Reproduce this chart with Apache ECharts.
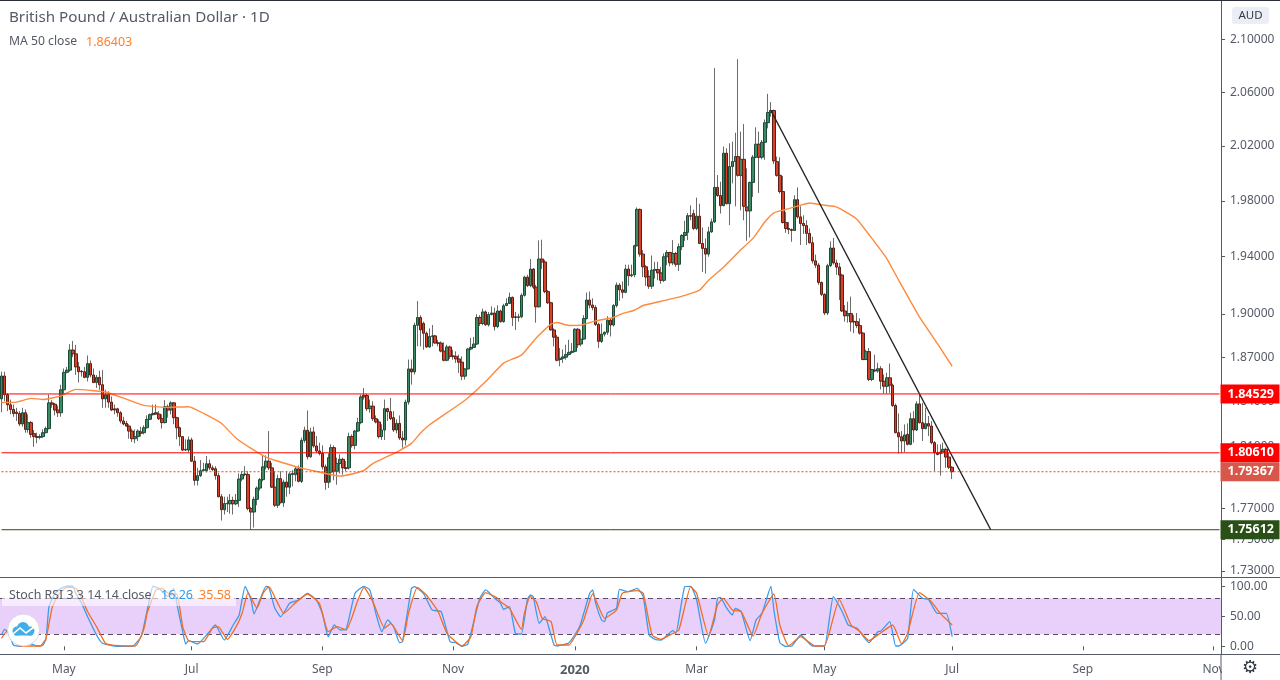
<!DOCTYPE html>
<html>
<head>
<meta charset="utf-8">
<style>html,body{margin:0;padding:0;background:#fff}#chart{width:1280px;height:680px}</style>
<script src="https://cdn.jsdelivr.net/npm/echarts@6/dist/echarts.min.js"></script>
</head>
<body>
<div id="chart"></div>
<script>
/* daily candles: [open, close, low, high] */
var candles = [
[1.8420,1.8574,1.8331,1.8603],[1.8574,1.8448,1.8404,1.8603],[1.8448,1.8380,1.8338,1.8459],[1.8380,1.8349,1.8316,1.8415],[1.8349,1.8322,1.8300,1.8382],
[1.8331,1.8322,1.8272,1.8360],[1.8322,1.8252,1.8238,1.8338],[1.8252,1.8327,1.8234,1.8360],[1.8327,1.8216,1.8194,1.8349],[1.8216,1.8261,1.8194,1.8316],
[1.8261,1.8183,1.8161,1.8272],[1.8188,1.8168,1.8101,1.8212],[1.8168,1.8163,1.8124,1.8194],[1.8163,1.8168,1.8150,1.8183],[1.8168,1.8194,1.8159,1.8216],
[1.8194,1.8221,1.8190,1.8234],[1.8221,1.8393,1.8216,1.8448],[1.8393,1.8384,1.8360,1.8411],[1.8384,1.8345,1.8309,1.8393],[1.8345,1.8327,1.8298,1.8375],
[1.8327,1.8481,1.8300,1.8515],[1.8481,1.8599,1.8448,1.8625],[1.8599,1.8614,1.8592,1.8636],[1.8614,1.8751,1.8603,1.8791],[1.8751,1.8725,1.8703,1.8813],
[1.8725,1.8636,1.8581,1.8786],[1.8636,1.8603,1.8530,1.8669],[1.8607,1.8603,1.8570,1.8614],[1.8603,1.8565,1.8559,1.8636],[1.8565,1.8658,1.8537,1.8714],
[1.8658,1.8581,1.8565,1.8680],[1.8581,1.8530,1.8526,1.8625],[1.8530,1.8565,1.8493,1.8581],[1.8565,1.8515,1.8481,1.8610],[1.8515,1.8420,1.8360,1.8614],
[1.8420,1.8448,1.8360,1.8481],[1.8448,1.8398,1.8360,1.8470],[1.8398,1.8345,1.8338,1.8437],[1.8353,1.8345,1.8316,1.8382],[1.8353,1.8327,1.8300,1.8360],
[1.8327,1.8272,1.8256,1.8338],[1.8272,1.8252,1.8243,1.8300],[1.8256,1.8238,1.8234,1.8272],[1.8238,1.8205,1.8154,1.8250],[1.8205,1.8154,1.8132,1.8221],
[1.8154,1.8168,1.8124,1.8216],[1.8168,1.8205,1.8139,1.8216],[1.8199,1.8190,1.8168,1.8234],[1.8194,1.8227,1.8183,1.8243],[1.8227,1.8283,1.8221,1.8309],
[1.8283,1.8314,1.8278,1.8322],[1.8314,1.8322,1.8309,1.8382],[1.8327,1.8318,1.8314,1.8382],[1.8318,1.8287,1.8278,1.8338],[1.8287,1.8261,1.8221,1.8316],
[1.8261,1.8367,1.8256,1.8411],[1.8367,1.8345,1.8294,1.8382],[1.8345,1.8393,1.8316,1.8404],[1.8393,1.8294,1.8250,1.8398],[1.8294,1.8227,1.8150,1.8300],
[1.8227,1.8168,1.8106,1.8234],[1.8168,1.8079,1.8073,1.8172],[1.8079,1.8084,1.8073,1.8150],[1.8079,1.8146,1.8062,1.8168],[1.8146,1.8006,1.7999,1.8161],
[1.8006,1.7880,1.7847,1.8040],[1.7880,1.7911,1.7847,1.7962],[1.7911,1.7944,1.7902,1.8013],[1.7944,1.7951,1.7940,1.7995],[1.7944,1.7989,1.7933,1.8040],
[1.7989,1.7962,1.7947,1.8017],[1.7962,1.7951,1.7940,1.7978],[1.7956,1.7911,1.7885,1.7973],[1.7911,1.7774,1.7770,1.7929],[1.7774,1.7690,1.7620,1.7792],
[1.7690,1.7730,1.7659,1.7774],[1.7728,1.7732,1.7675,1.7774],[1.7728,1.7750,1.7664,1.7792],[1.7750,1.7728,1.7659,1.7774],[1.7728,1.7750,1.7719,1.7792],
[1.7750,1.7889,1.7708,1.7925],[1.7889,1.7918,1.7874,1.7940],[1.7918,1.7922,1.7907,1.7973],[1.7918,1.7697,1.7686,1.7940],[1.7697,1.7675,1.7561,1.7708],
[1.7675,1.7757,1.7575,1.7774],[1.7757,1.7830,1.7719,1.7841],[1.7830,1.7885,1.7814,1.7896],[1.7885,1.7969,1.7874,1.8040],[1.7969,1.8006,1.7951,1.8044],
[1.8006,1.7962,1.7947,1.8205],[1.7962,1.7836,1.7830,1.7995],[1.7836,1.7719,1.7708,1.7940],[1.7719,1.7891,1.7701,1.7918],[1.7891,1.7735,1.7730,1.7940],
[1.7735,1.7869,1.7708,1.7885],[1.7869,1.7836,1.7774,1.7940],[1.7836,1.7922,1.7792,1.7933],[1.7918,1.7925,1.7841,1.7947],[1.7918,1.7956,1.7874,1.7973],
[1.7956,1.7874,1.7867,1.7978],[1.7874,1.8143,1.7863,1.8161],[1.8143,1.8210,1.8128,1.8234],[1.8210,1.8035,1.8017,1.8342],[1.8035,1.8199,1.8028,1.8227],
[1.8199,1.8106,1.8095,1.8234],[1.8106,1.8073,1.8062,1.8172],[1.8073,1.8057,1.8044,1.8128],[1.8057,1.7969,1.7951,1.8110],[1.7969,1.7867,1.7819,1.7984],
[1.7867,1.8029,1.7830,1.8057],[1.7934,1.8095,1.7867,1.8117],[1.8095,1.7940,1.7881,1.8110],[1.7940,1.7991,1.7852,1.8029],[1.7991,1.8018,1.7925,1.8051],
[1.8018,1.7962,1.7918,1.8029],[1.7962,1.7958,1.7940,1.8007],[1.7962,1.8168,1.7951,1.8194],[1.8168,1.8110,1.8095,1.8183],[1.8110,1.8205,1.8084,1.8212],
[1.8205,1.8261,1.8199,1.8294],[1.8261,1.8433,1.8250,1.8449],[1.8444,1.8433,1.8415,1.8493],[1.8442,1.8354,1.8338,1.8455],[1.8354,1.8371,1.8327,1.8415],
[1.8371,1.8287,1.8272,1.8404],[1.8287,1.8265,1.8256,1.8309],[1.8265,1.8168,1.8155,1.8283],[1.8168,1.8212,1.8146,1.8250],[1.8212,1.8354,1.8146,1.8415],
[1.8354,1.8334,1.8272,1.8360],[1.8334,1.8287,1.8278,1.8426],[1.8294,1.8212,1.8199,1.8338],[1.8212,1.8256,1.8190,1.8283],[1.8256,1.8159,1.8146,1.8309],
[1.8159,1.8146,1.8095,1.8205],[1.8146,1.8398,1.8110,1.8415],[1.8398,1.8622,1.8380,1.8686],[1.8622,1.8602,1.8516,1.8686],[1.8602,1.8921,1.8584,1.8939],
[1.8921,1.8975,1.8776,1.9089],[1.8975,1.8889,1.8776,1.8991],[1.8934,1.8866,1.8753,1.8946],[1.8866,1.8772,1.8765,1.8878],[1.8772,1.8844,1.8765,1.8900],
[1.8844,1.8848,1.8776,1.8923],[1.8848,1.8799,1.8794,1.8855],[1.8801,1.8797,1.8776,1.8821],[1.8799,1.8744,1.8735,1.8810],[1.8744,1.8681,1.8674,1.8803],
[1.8681,1.8772,1.8674,1.8787],[1.8772,1.8708,1.8690,1.8781],[1.8711,1.8706,1.8685,1.8753],[1.8708,1.8690,1.8663,1.8742],[1.8690,1.8668,1.8595,1.8720],
[1.8668,1.8573,1.8546,1.8708],[1.8573,1.8622,1.8550,1.8629],[1.8622,1.8758,1.8618,1.8765],[1.8758,1.8769,1.8749,1.8833],[1.8769,1.8792,1.8765,1.8840],
[1.8792,1.8975,1.8785,1.8998],[1.8975,1.8934,1.8916,1.8991],[1.8934,1.9013,1.8921,1.9036],[1.9013,1.8925,1.8916,1.9024],[1.8925,1.8995,1.8912,1.9013],
[1.8995,1.9006,1.8990,1.9052],[1.9006,1.8912,1.8885,1.9043],[1.8912,1.9020,1.8900,1.9059],[1.9020,1.8946,1.8939,1.9029],[1.8946,1.9056,1.8939,1.9070],
[1.9058,1.9072,1.9054,1.9108],[1.9072,1.9115,1.9068,1.9148],[1.9115,1.8975,1.8916,1.9120],[1.8980,1.8975,1.8889,1.9013],[1.8975,1.8980,1.8946,1.9001],
[1.8980,1.9129,1.8970,1.9143],[1.9129,1.9256,1.9120,1.9266],[1.9256,1.9197,1.9186,1.9273],[1.9197,1.9313,1.9186,1.9384],[1.9313,1.9186,1.9172,1.9320],
[1.9186,1.9049,1.8939,1.9202],[1.9049,1.9384,1.9044,1.9516],[1.9384,1.9363,1.9313,1.9521],[1.9363,1.9155,1.9143,1.9379],[1.9155,1.9077,1.9068,1.9167],
[1.9077,1.8889,1.8885,1.9084],[1.8889,1.8839,1.8776,1.8900],[1.8839,1.8681,1.8674,1.8855],[1.8686,1.8695,1.8640,1.8765],[1.8695,1.8704,1.8663,1.8754],
[1.8702,1.8720,1.8685,1.8787],[1.8720,1.8735,1.8713,1.8821],[1.8735,1.8742,1.8726,1.8799],[1.8742,1.8894,1.8735,1.8900],[1.8894,1.8787,1.8765,1.8900],
[1.8792,1.8826,1.8776,1.8889],[1.8826,1.8968,1.8821,1.8991],[1.8968,1.9096,1.8961,1.9148],[1.9096,1.9061,1.9037,1.9155],[1.9061,1.9044,1.9025,1.9108],
[1.9044,1.8927,1.8916,1.9061],[1.8927,1.8810,1.8765,1.8939],[1.8810,1.8860,1.8799,1.8934],[1.8860,1.8873,1.8844,1.8878],[1.8873,1.8957,1.8855,1.8984],
[1.8957,1.8923,1.8844,1.8968],[1.8923,1.9058,1.8912,1.9068],[1.9058,1.9200,1.9044,1.9219],[1.9200,1.9167,1.9091,1.9214],[1.9167,1.9150,1.9108,1.9226],
[1.9150,1.9313,1.9143,1.9344],[1.9313,1.9266,1.9195,1.9344],[1.9266,1.9273,1.9256,1.9344],[1.9273,1.9478,1.9256,1.9485],[1.9478,1.9738,1.9473,1.9752],
[1.9738,1.9419,1.9400,1.9745],[1.9419,1.9329,1.9257,1.9447],[1.9329,1.9257,1.9195,1.9341],[1.9262,1.9193,1.9174,1.9305],[1.9193,1.9305,1.9174,1.9409],
[1.9305,1.9310,1.9246,1.9364],[1.9310,1.9286,1.9234,1.9364],[1.9286,1.9234,1.9210,1.9329],[1.9234,1.9400,1.9222,1.9423],[1.9400,1.9430,1.9340,1.9447],
[1.9430,1.9357,1.9333,1.9435],[1.9357,1.9423,1.9340,1.9518],[1.9423,1.9347,1.9329,1.9435],[1.9347,1.9471,1.9300,1.9494],[1.9471,1.9551,1.9447,1.9561],
[1.9551,1.9573,1.9513,1.9656],[1.9573,1.9693,1.9518,1.9712],[1.9693,1.9689,1.9660,1.9767],[1.9708,1.9601,1.9589,1.9736],[1.9601,1.9689,1.9589,1.9823],
[1.9689,1.9494,1.9490,1.9779],[1.9494,1.9459,1.9293,1.9608],[1.9459,1.9419,1.9281,1.9530],[1.9419,1.9577,1.9400,1.9613],[1.9577,1.9648,1.9570,1.9672],
[1.9648,1.9897,1.9641,2.0782],[1.9897,1.9838,1.9828,1.9987],[1.9838,1.9765,1.9708,1.9938],[1.9765,2.0147,1.9760,2.0196],[2.0147,1.9779,1.9774,2.0183],
[1.9779,2.0049,1.9625,2.0220],[2.0049,2.0085,1.9926,2.0232],[2.0085,2.0122,1.9760,2.0298],[2.0122,1.9985,1.9975,2.0850],[1.9985,2.0102,1.9731,2.0306],
[2.0102,1.9760,1.9660,2.0362],[1.9755,1.9727,1.9513,2.0036],[1.9727,1.9933,1.9537,1.9938],[1.9933,2.0117,1.9828,2.0134],[2.0117,2.0213,2.0110,2.0338],
[2.0213,2.0117,1.9857,2.0306],[2.0117,2.0227,2.0102,2.0244],[2.0227,2.0372,2.0098,2.0396],[2.0372,2.0448,2.0330,2.0588],[2.0448,2.0463,2.0416,2.0526],
[2.0463,2.0090,2.0068,2.0470],[2.0085,1.9985,1.9975,2.0122],[1.9985,1.9867,1.9852,2.0117],[1.9867,1.9644,1.9637,1.9980],[1.9644,1.9601,1.9570,1.9720],
[1.9601,1.9594,1.9561,1.9648],[1.9594,1.9587,1.9506,1.9601],[1.9587,1.9808,1.9585,1.9840],[1.9808,1.9684,1.9672,1.9897],[1.9684,1.9637,1.9483,1.9760],
[1.9637,1.9622,1.9561,1.9696],[1.9622,1.9566,1.9483,1.9660],[1.9566,1.9499,1.9494,1.9601],[1.9499,1.9371,1.9352,1.9542],[1.9371,1.9341,1.9320,1.9415],
[1.9341,1.9219,1.9202,1.9356],[1.9219,1.9136,1.9124,1.9226],[1.9136,1.9006,1.8991,1.9143],[1.9006,1.9337,1.8991,1.9351],[1.9337,1.9462,1.9327,1.9509],
[1.9462,1.9356,1.9344,1.9533],[1.9356,1.9327,1.9273,1.9379],[1.9327,1.9271,1.9096,1.9356],[1.9271,1.9020,1.9013,1.9280],[1.9020,1.8987,1.8946,1.9061],
[1.8987,1.9002,1.8939,1.9084],[1.9002,1.8944,1.8878,1.9120],[1.8948,1.8944,1.8867,1.8991],[1.8946,1.8919,1.8901,1.9006],[1.8919,1.8867,1.8856,1.8969],
[1.8867,1.8686,1.8682,1.8875],[1.8686,1.8740,1.8682,1.8754],[1.8740,1.8551,1.8539,1.8765],[1.8551,1.8618,1.8539,1.8623],[1.8614,1.8609,1.8600,1.8720],
[1.8609,1.8623,1.8596,1.8664],[1.8623,1.8539,1.8483,1.8641],[1.8539,1.8505,1.8456,1.8585],[1.8505,1.8562,1.8456,1.8596],[1.8562,1.8512,1.8460,1.8659],
[1.8512,1.8375,1.8366,1.8523],[1.8375,1.8194,1.8190,1.8388],[1.8194,1.8167,1.8055,1.8322],[1.8167,1.8139,1.8061,1.8205],[1.8139,1.8179,1.8066,1.8249],
[1.8183,1.8117,1.8110,1.8256],[1.8117,1.8287,1.8110,1.8327],[1.8287,1.8212,1.8128,1.8338],[1.8212,1.8386,1.8205,1.8404],[1.8386,1.8260,1.8256,1.8448],
[1.8260,1.8221,1.8139,1.8393],[1.8221,1.8254,1.8216,1.8360],[1.8254,1.8238,1.8172,1.8305],[1.8238,1.8128,1.8117,1.8271],[1.8128,1.8061,1.7940,1.8139],
[1.8061,1.8050,1.8044,1.8117],[1.8055,1.8066,1.7911,1.8117],[1.8066,1.8084,1.8057,1.8128],[1.8084,1.8033,1.7962,1.8095],[1.8033,1.7966,1.7955,1.8061],
[1.7966,1.79367,1.7889,1.7973]
];

/* MA 50, vertices */
var maIndex = [0,5,10,14,20,25,30,35,42,48,55,63,68,74,79,84,89,95,102,107,111,114,118,122,125,130,134,138,141,144,156,163,169,175,180,185,187,191,195,200,206,209,213,216,222,228,235,238,243,248,253,257,260,263,265,269,272,277,281,285,288,293,298,302,309,315,320];
var maValues = [1.8395,1.8398,1.8423,1.8416,1.8440,1.8484,1.8477,1.8466,1.8418,1.8376,1.8363,1.8367,1.8323,1.8257,1.8157,1.8090,1.8033,1.7994,1.7955,1.7935,1.7917,1.7909,1.7922,1.7946,1.7990,1.8037,1.8076,1.8123,1.8190,1.8245,1.8411,1.8537,1.8662,1.8716,1.8833,1.8929,1.8940,1.8920,1.8922,1.8951,1.8975,1.9002,1.9025,1.9058,1.9088,1.9116,1.9165,1.9235,1.9326,1.9432,1.9532,1.9649,1.9713,1.9732,1.9744,1.9768,1.9784,1.9768,1.9756,1.9709,1.9666,1.9530,1.9387,1.9235,1.8979,1.8796,1.86403];

/* Stoch RSI */
var kIndex = [0,1,2,3,4,6,10,12,14,15,16,18,20,22,24,25,27,29,32,34,38,44,47,48,50,51,53,56,58,59,61,62,63,66,70,72,75,78,80,82,84,85,87,89,90,92,94,97,100,103,106,108,110,112,114,116,119,122,124,126,128,130,132,134,135,138,139,142,145,148,151,153,155,157,161,163,166,168,169,171,173,175,177,178,179,181,183,184,186,187,191,194,195,198,199,200,202,203,204,207,208,211,214,216,218,220,222,226,227,230,232,234,237,240,241,242,244,246,247,249,252,254,256,259,260,262,264,266,269,273,277,280,283,285,288,292,295,296,299,301,302,305,307,310,312,315,318,320];
var kValues = [18.9,28.3,24.4,16,2.2,0,3.9,0.5,2.2,13.3,66.1,88.3,96.6,100,100,88.3,71.6,49.4,18.9,5,0.5,0,16,35.5,82.8,100,96.6,82.8,96.6,71.6,24.4,3.9,9.4,3.9,24.4,35.5,10.5,35.5,52.2,100,77.2,53.9,77.2,100,98.3,63.3,49.4,71.6,77.2,88.3,77.2,55,16,35.5,27.2,28.3,88.3,100,93.9,55,24.4,43.9,32.8,6.1,7.7,96.6,99.4,88.3,60.5,57.7,7.7,6.1,0,3.9,80,93.9,80,71.6,61.6,66.1,21.6,20.5,77.2,85.5,82.8,38.3,49.4,35.5,2.2,0.5,6.1,27.2,38.3,88.3,93.9,71.6,43.9,41.1,56,63.3,95,91,96.6,82.8,18.9,11.6,10.5,26,21.6,99.4,100,77.2,5,43.9,80,81.6,64.4,52.2,63.3,57.7,9.4,43.9,55,100,60.5,6.1,0,0.5,18.9,0.5,0.5,82.8,57.7,35.5,30,6.1,24.4,25.5,41.1,0.5,0.5,13.3,95,80,78.3,55,55,16.26];
var dIndex = [0,2,3,6,13,15,17,19,22,25,27,29,32,35,38,45,48,49,52,54,57,59,61,63,68,71,73,76,79,81,83,86,88,90,93,95,99,103,107,110,113,116,120,122,125,129,131,135,137,140,143,147,150,155,158,160,163,167,168,171,175,176,178,180,182,185,187,191,193,196,199,203,207,209,214,216,219,222,225,228,232,234,238,241,243,246,249,253,256,260,262,265,269,274,277,282,286,289,292,296,300,303,305,309,313,316,320];
var dValues = [13.3,26,18.9,0.5,0.5,13.3,63.3,85.5,98.3,96.6,80,57.7,32.8,5,1.6,0.5,30,55,93.9,96.6,85.5,87.2,32.8,9.4,7.7,30,32.8,11.6,32.8,55,89.4,63.3,88.3,99.4,71.6,55,72.8,87.2,71.6,24.4,32.8,27.2,77.2,98.3,74.4,30,38.3,9.4,55,98.3,85.5,57.7,21.6,0.5,16,66.1,89.4,80,74.4,63.3,28.3,55,82.8,74.4,46.6,41.1,2.2,2.2,16,43.9,87.2,46.6,60.5,88.3,92.8,88.3,18.9,11.6,18.9,27.2,99.4,88.3,17.2,68.9,80,60.5,57.7,17.2,55,87.2,35.5,0.5,16,0.5,0.5,78.3,35.5,24.4,9.4,22.7,35.5,3.9,21.6,89.4,74.4,55,35.58];

/* horizontal levels and their tags */
var levelValues = [1.84529, 1.80610, 1.79367, 1.75612];
var levelLineColors = ['#ff0000', '#ff0000', '#ff3b20', '#2a4f17'];
var levelTagColors = ['#ff0000', '#ff0000', '#d9574a', '#2a4f17'];

/* axis ticks */
var priceTicks = [2.10,2.06,2.02,1.98,1.94,1.90,1.87,1.84,1.81,1.79,1.77,1.75,1.73];
var rsiTicks = [0,50,100];
var tickDates = ['2019-05-01','2019-07-01','2019-09-02','2019-11-01','2020-01-02','2020-03-02','2020-05-01','2020-07-01','2020-09-01','2020-11-02'];
var tickLabels = ['May','Jul','Sep','Nov','2020','Mar','May','Jul','Sep','Nov'];

/* trading days on the axis, weekends and a few closed days left out */
var closedDays = ['2019-04-19','2019-08-26','2019-12-25','2019-12-26','2020-01-01','2020-02-17','2020-04-10'];
var categories = [];
var day = Date.UTC(2019, 3, 1);
while (categories.length < 411) {
    var d = new Date(day);
    var s = d.toISOString().slice(0, 10);
    if (d.getUTCDay() !== 0 && d.getUTCDay() !== 6 && closedDays.indexOf(s) < 0) {
        categories.push(s);
    }
    day += 86400000;
}

function zip(xs, ys) {
    return xs.map(function (x, i) { return [x, ys[i]]; });
}

var FONT = '"Noto Sans", sans-serif';
var GRAY = '#555a66';
var isTick = function (i, v) { return tickDates.indexOf(v) >= 0; };

/* each level is its own line series, the tag is its end label */
var levelSeries = levelValues.map(function (value, i) {
    return {
        name: 'level ' + value, type: 'line', xAxisIndex: 0, yAxisIndex: 0,
        data: [[0, value], [410, value]],
        showSymbol: false, silent: true, z: 6,
        lineStyle: { color: levelLineColors[i], width: 1, type: i === 2 ? [2, 2] : 'solid' },
        endLabel: {
            show: true, distance: 1, formatter: value.toFixed(5),
            backgroundColor: levelTagColors[i], color: '#fff', fontFamily: FONT, fontSize: 12.5, fontWeight: 'bold',
            width: 52, height: 19, lineHeight: 19, align: 'left', padding: [0, 0, 0, 7]
        }
    };
});

var myChart = echarts.init(document.getElementById('chart'));
var option = {
    animation: false,
    backgroundColor: '#ffffff',
    grid: [
        { left: 0, top: 1, width: 1221, height: 576 },
        { left: 0, top: 577.3, width: 1221, height: 76.7 }
    ],
    xAxis: [
        { type: 'category', gridIndex: 0, data: categories, boundaryGap: true, axisLine: { show: false }, axisTick: { show: false }, axisLabel: { show: false }, splitLine: { show: false } },
        {
            type: 'category', gridIndex: 1, data: categories, boundaryGap: true,
            axisLine: { show: false },
            axisTick: { show: true, alignWithLabel: true, interval: isTick, length: 4, lineStyle: { color: GRAY } },
            axisLabel: {
                interval: isTick, hideOverlap: false, color: GRAY, fontFamily: FONT, fontSize: 12, margin: 10,
                formatter: function (v) {
                    var label = tickLabels[tickDates.indexOf(v)];
                    return label === '2020' ? '{y|2020}' : label;
                },
                rich: { y: { fontFamily: FONT, fontSize: 13, fontWeight: 'bold', color: GRAY } }
            },
            splitLine: { show: false }
        }
    ],
    yAxis: [
        {
            type: 'log', logBase: 10, gridIndex: 0, position: 'right', min: 1.7261, max: 2.1297,
            axisLine: { show: true, lineStyle: { color: GRAY } },
            axisTick: { show: true, length: 4, customValues: priceTicks, lineStyle: { color: GRAY } },
            axisLabel: { color: GRAY, fontFamily: FONT, fontSize: 12, margin: 9, customValues: priceTicks, formatter: function (v) { return (+v).toFixed(5); } },
            splitLine: { show: false }, minorTick: { show: false }
        },
        {
            type: 'value', gridIndex: 1, position: 'right', min: -12.8, max: 115,
            axisLine: { show: true, lineStyle: { color: GRAY } },
            axisTick: { show: true, length: 4, customValues: rsiTicks, lineStyle: { color: GRAY } },
            axisLabel: { color: GRAY, fontFamily: FONT, fontSize: 12, margin: 9, customValues: rsiTicks, formatter: function (v) { return (+v).toFixed(2); } },
            splitLine: { show: false }
        }
    ],
    series: [
        /* gray wicks under the bodies */
        {
            name: 'wick', type: 'candlestick', xAxisIndex: 0, yAxisIndex: 0, data: candles, barWidth: 1, large: false, progressive: 0,
            itemStyle: { color: '#6b6b6b', color0: '#6b6b6b', borderColor: '#6b6b6b', borderColor0: '#6b6b6b', borderWidth: 1 },
            z: 1
        },
        {
            name: 'GBPAUD', type: 'candlestick', xAxisIndex: 0, yAxisIndex: 0, barWidth: 3, large: false, progressive: 0,
            data: candles.map(function (c) { return [c[0], c[1], Math.min(c[0], c[1]), Math.max(c[0], c[1])]; }),
            itemStyle: { color: '#3b8a64', color0: '#d7402b', borderColor: '#1e4a38', borderColor0: '#5b1f14', borderWidth: 1 },
            z: 2,
            markLine: {
                silent: true, symbol: 'none', animation: false, z: 6,
                data: [
                    [
                        { coord: [259, 2.0463], lineStyle: { color: '#222222', width: 1.4, type: 'solid' }, label: { show: false } },
                        { coord: [333, 1.7561] }
                    ]
                ]
            }
        },
        {
            name: 'MA 50', type: 'line', xAxisIndex: 0, yAxisIndex: 0, data: zip(maIndex, maValues),
            showSymbol: false, smooth: 0.15, z: 4,
            lineStyle: { color: '#ff8a3d', width: 1.4 }
        },
        {
            name: 'K', type: 'line', xAxisIndex: 1, yAxisIndex: 1, data: zip(kIndex, kValues),
            showSymbol: false, smooth: 0.15, z: 4,
            lineStyle: { color: '#3a9bec', width: 1.3 },
            markArea: { silent: true, itemStyle: { color: '#e9d0fb' }, data: [[{ yAxis: 80 }, { yAxis: 20 }]], z: 1 },
            markLine: {
                silent: true, symbol: 'none', label: { show: false }, z: 2,
                lineStyle: { color: '#5b4a66', width: 1, type: [5, 4] },
                data: [{ yAxis: 80 }, { yAxis: 20 }]
            }
        },
        {
            name: 'D', type: 'line', xAxisIndex: 1, yAxisIndex: 1, data: zip(dIndex, dValues),
            showSymbol: false, smooth: 0.15, z: 5,
            lineStyle: { color: '#f26d21', width: 1.3 }
        }
    ].concat(levelSeries),
    graphic: [
        { type: 'rect', z: 20, shape: { x: 1222, y: 655, width: 58, height: 25 }, style: { fill: '#ffffff' } },
        { type: 'line', z: 21, shape: { x1: 0, y1: 0.5, x2: 1280, y2: 0.5 }, style: { stroke: '#2a2e39', lineWidth: 1 } },
        { type: 'line', z: 21, shape: { x1: 0, y1: 577.5, x2: 1280, y2: 577.5 }, style: { stroke: '#555a66', lineWidth: 1 } },
        { type: 'line', z: 21, shape: { x1: 0, y1: 654.5, x2: 1280, y2: 654.5 }, style: { stroke: '#555a66', lineWidth: 1 } },
        { type: 'line', z: 21, shape: { x1: 1221, y1: 654, x2: 1221, y2: 680 }, style: { stroke: '#555a66', lineWidth: 1 } },
        { type: 'text', z: 21, style: { x: 9, y: 18, text: 'British Pound / Australian Dollar · 1D', fill: '#555a66', font: '15.2px ' + FONT, textVerticalAlign: 'middle' } },
        { type: 'text', z: 21, style: { x: 9, y: 42, text: 'MA 50 close', fill: '#555a66', font: '12.2px ' + FONT, textVerticalAlign: 'middle' } },
        { type: 'text', z: 21, style: { x: 86, y: 42, text: '1.86403', fill: '#ff7f2a', font: '12.5px ' + FONT, textVerticalAlign: 'middle' } },
        { type: 'rect', z: 19, shape: { x: 2, y: 586, width: 234, height: 20 }, style: { fill: 'rgba(255,255,255,0.6)' } },
        { type: 'text', z: 21, style: { x: 9, y: 595, text: 'Stoch RSI 3 3 14 14 close', fill: '#555a66', font: '12.4px ' + FONT, textVerticalAlign: 'middle' } },
        { type: 'text', z: 21, style: { x: 161, y: 595, text: '16.26', fill: '#2e9bf0', font: '12.5px ' + FONT, textVerticalAlign: 'middle' } },
        { type: 'text', z: 21, style: { x: 199, y: 595, text: '35.58', fill: '#ff7f2a', font: '12.5px ' + FONT, textVerticalAlign: 'middle' } },
        /* logo */
        { type: 'circle', z: 21, shape: { cx: 23.5, cy: 630, r: 16 }, style: { fill: '#ffffff', stroke: '#dcd6e6', lineWidth: 1 } },
        { type: 'circle', z: 22, shape: { cx: 17, cy: 631, r: 4.5 }, style: { fill: '#41aee8' } },
        { type: 'circle', z: 22, shape: { cx: 23, cy: 628, r: 6 }, style: { fill: '#41aee8' } },
        { type: 'circle', z: 22, shape: { cx: 30, cy: 631, r: 4.5 }, style: { fill: '#41aee8' } },
        { type: 'rect', z: 22, shape: { x: 15, y: 630, width: 17, height: 5.5 }, style: { fill: '#41aee8' } },
        { type: 'polyline', z: 23, shape: { points: [[13, 634], [20, 628], [26, 633], [34, 627]] }, style: { stroke: '#ffffff', fill: 'none', lineWidth: 1.6 } },
        { type: 'rect', z: 21, shape: { x: 1232, y: 7, width: 37, height: 17, r: 3 }, style: { fill: '#eceef6' } },
        { type: 'text', z: 22, style: { x: 1250.5, y: 15.5, text: 'AUD', fill: '#333a44', font: '11.5px ' + FONT, textAlign: 'center', textVerticalAlign: 'middle' } },
        { type: 'text', z: 22, style: { x: 1250, y: 668, text: '⚙', fill: '#333a44', font: '18px "DejaVu Sans"', textAlign: 'center', textVerticalAlign: 'middle' } }
    ]
};
myChart.setOption(option);
</script>
</body>
</html>
